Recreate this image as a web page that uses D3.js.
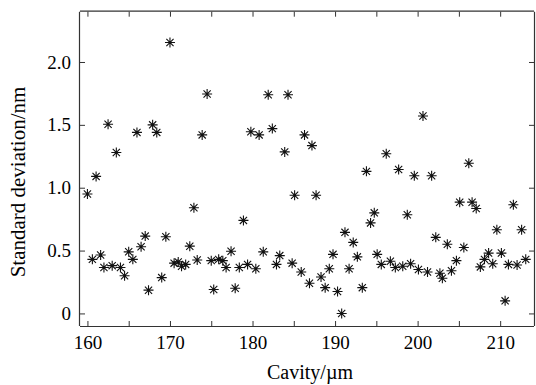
<!DOCTYPE html>
<html>
<head>
<meta charset="utf-8">
<script src="https://cdn.jsdelivr.net/npm/d3@7"></script>
<style>
  body { margin: 0; background: #fff; }
  svg { display: block; }
</style>
</head>
<body>
<svg id="chart" width="536" height="385"></svg>
<script>
const cavity = [
  160.0, 160.6, 161.05, 161.6, 162.0, 162.5, 163.0, 163.5, 164.0, 164.5,
  165.0, 165.5, 166.0, 166.5, 167.0, 167.4, 167.9, 168.4, 169.0, 169.5,
  170.0, 170.5, 171.0, 171.4, 171.9, 172.4, 172.9, 173.3, 173.9, 174.5,
  175.0, 175.3, 175.9, 176.4, 176.8, 177.4, 177.9, 178.4, 178.9, 179.4,
  179.8, 180.4, 180.8, 181.3, 181.9, 182.4, 182.9, 183.3, 183.9, 184.3,
  184.8, 185.1, 185.9, 186.3, 186.9, 187.2, 187.7, 188.3, 188.8, 189.3,
  189.75, 190.3, 190.8, 191.2, 191.7, 192.2, 192.7, 193.3, 193.8, 194.3,
  194.75, 195.1, 195.6, 196.2, 196.7, 197.3, 197.7, 198.2, 198.75, 199.15,
  199.6, 200.1, 200.65, 201.2, 201.7, 202.2, 202.7, 203.0, 203.6, 204.1,
  204.7, 205.1, 205.6, 206.2, 206.6, 207.1, 207.6, 208.1, 208.6, 209.1,
  209.6, 210.15, 210.6, 211.0, 211.6, 212.05, 212.6, 213.1
];
const stdDev = [
  0.95, 0.43, 1.09, 0.465, 0.365, 1.505, 0.38, 1.28, 0.365, 0.30,
  0.49, 0.43, 1.44, 0.53, 0.615, 0.185, 1.50, 1.44, 0.285, 0.61,
  2.155, 0.40, 0.41, 0.375, 0.39, 0.535, 0.84, 0.425, 1.42, 1.745,
  0.42, 0.19, 0.43, 0.42, 0.365, 0.495, 0.20, 0.365, 0.74, 0.39,
  1.445, 0.355, 1.42, 0.49, 1.74, 1.47, 0.39, 0.46, 1.285, 1.74,
  0.40, 0.94, 0.33, 1.42, 0.24, 1.335, 0.94, 0.29, 0.205, 0.355,
  0.47, 0.175, 0.0, 0.645, 0.355, 0.565, 0.45, 0.205, 1.13, 0.72,
  0.80, 0.47, 0.39, 1.27, 0.415, 0.365, 1.145, 0.375, 0.785, 0.395,
  1.095, 0.35, 1.57, 0.33, 1.095, 0.605, 0.32, 0.28, 0.55, 0.34,
  0.42, 0.885, 0.525, 1.195, 0.885, 0.835, 0.37, 0.43, 0.48, 0.395,
  0.665, 0.48, 0.10, 0.39, 0.865, 0.385, 0.665, 0.43
];

const xTicks = [160, 165, 170, 175, 180, 185, 190, 195, 200, 205, 210];
const xLabels = [160, 170, 180, 190, 200, 210];
const yTicks = [0, 0.5, 1.0, 1.5, 2.0];

const xTitle = "Cavity/µm";
const yTitle = "Standard deviation/nm";

const plotL = 80, plotR = 534, plotT = 11.7, plotB = 326;
const font = "'Liberation Serif', 'Times New Roman', serif";

const svg = d3.select("#chart");

const x = d3.scaleLinear().domain([159.1, 214.1]).range([plotL, plotR]);
const y = d3.scaleLinear().domain([-0.1, 2.4]).range([plotB, plotT]);

const fmtX = d => xLabels.includes(d) ? String(d) : "";
const fmtY = d => d === 0 ? "0" : d3.format(".1f")(d);

// axes, ticks pointing inward like the original box plot
const xAxis = svg.append("g")
  .attr("transform", `translate(0,${plotB})`)
  .call(d3.axisBottom(x).tickValues(xTicks).tickFormat(fmtX)
    .tickSizeInner(-5).tickSizeOuter(0).tickPadding(10));

const xAxisTop = svg.append("g")
  .attr("transform", `translate(0,${plotT})`)
  .call(d3.axisTop(x).tickValues(xTicks).tickFormat("")
    .tickSizeInner(-5).tickSizeOuter(0));

const yAxis = svg.append("g")
  .attr("transform", `translate(${plotL},0)`)
  .call(d3.axisLeft(y).tickValues(yTicks).tickFormat(fmtY)
    .tickSizeInner(-5).tickSizeOuter(0).tickPadding(9));

const yAxisRight = svg.append("g")
  .attr("transform", `translate(${plotR},0)`)
  .call(d3.axisRight(y).tickValues(yTicks).tickFormat("")
    .tickSizeInner(-5).tickSizeOuter(0));

[xAxis, xAxisTop, yAxis, yAxisRight].forEach(a => {
  a.select(".domain").attr("stroke", "#333").attr("stroke-width", 1.2);
  a.selectAll(".tick line").attr("stroke", "#333");
  a.selectAll("text")
    .attr("fill", "#000")
    .attr("font-family", font)
    .attr("font-size", 19);
});

// the box is closed by the two domain lines, stretch them to the corners
xAxis.select(".domain").attr("d", `M${plotL},0.5H${plotR}`);
xAxisTop.select(".domain").attr("d", `M${plotL},-0.5H${plotR}`);
yAxis.select(".domain").attr("d", `M-0.5,${plotT}V${plotB}`);
yAxisRight.select(".domain").attr("d", `M0.5,${plotT}V${plotB}`);

// asterisk markers: a plus and a cross
const arm = 5, diag = 3.6;
const star = `M${-arm},0H${arm}M0,${-arm}V${arm}` +
  `M${-diag},${-diag}L${diag},${diag}M${-diag},${diag}L${diag},${-diag}`;

const points = cavity.map((c, i) => ({ c, s: stdDev[i] }));

svg.append("g")
  .selectAll("path")
  .data(points)
  .join("path")
  .attr("transform", d => `translate(${x(d.c)},${y(d.s)})`)
  .attr("d", star)
  .attr("fill", "none")
  .attr("stroke", "#111")
  .attr("stroke-width", 1.1);

// axis titles
svg.append("text")
  .text(xTitle)
  .attr("x", (plotL + plotR) / 2 + 3)
  .attr("y", 379)
  .attr("text-anchor", "middle")
  .attr("font-family", font)
  .attr("font-size", 20)
  .attr("fill", "#000");

svg.append("text")
  .text(yTitle)
  .attr("transform", "translate(25,182) rotate(-90)")
  .attr("text-anchor", "middle")
  .attr("font-family", font)
  .attr("font-size", 21)
  .attr("fill", "#000");
</script>
</body>
</html>
